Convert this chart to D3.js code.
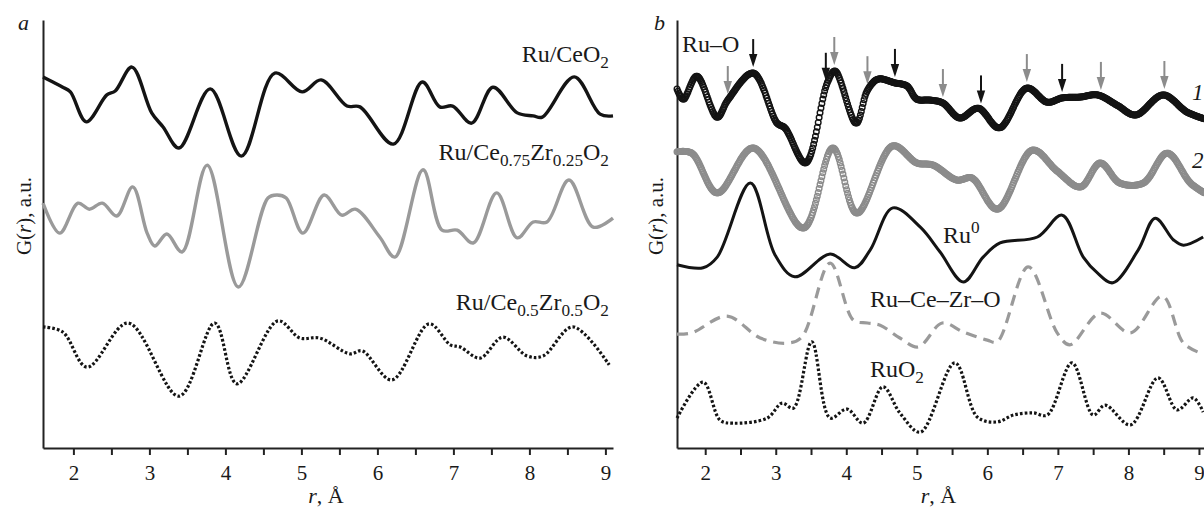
<!DOCTYPE html>
<html>
<head>
<meta charset="utf-8">
<script src="https://cdn.jsdelivr.net/npm/d3@7/dist/d3.min.js"></script>
<style>
  html, body { margin: 0; padding: 0; background: #fff; }
  svg { display: block; }
  text { font-family: "Liberation Serif", "Times New Roman", serif; fill: #1a1a1a; }
</style>
</head>
<body>
<svg id="chart" width="1204" height="510"></svg>
<script>
// ---------- axis ticks ----------
const rDomain = [1.6, 9.1];
const majorTicks = [2, 3, 4, 5, 6, 7, 8, 9];
const minorTicks = [2.5, 3.5, 4.5, 5.5, 6.5, 7.5, 8.5];

// ---------- panel a: PDF curves of the supported catalysts ----------
const ceO2_r = [1.60, 1.73, 1.86, 1.96, 2.17, 2.44, 2.55, 2.77, 3.03, 3.18, 3.39, 3.80, 4.21, 4.65, 5.01, 5.26, 5.60, 5.77, 6.21, 6.59, 6.82, 6.99, 7.24, 7.52, 7.84, 8.05, 8.17, 8.59, 8.93, 9.10];
const ceO2_G = [8.67, 8.55, 8.43, 8.32, 7.62, 8.25, 8.34, 8.90, 7.83, 7.50, 7.01, 8.39, 6.82, 8.76, 8.32, 8.60, 7.99, 7.97, 7.10, 8.55, 7.97, 7.99, 7.59, 8.43, 7.83, 7.76, 7.73, 8.67, 7.80, 7.76];

const cz75_r = [1.60, 1.82, 2.06, 2.21, 2.38, 2.57, 2.78, 2.97, 3.07, 3.23, 3.43, 3.76, 4.17, 4.56, 4.68, 4.80, 5.02, 5.30, 5.53, 5.71, 6.03, 6.23, 6.60, 6.85, 7.05, 7.26, 7.57, 7.84, 8.05, 8.23, 8.52, 8.84, 9.10];
const cz75_G = [5.72, 5.02, 5.72, 5.58, 5.72, 5.42, 6.10, 5.02, 4.72, 5.00, 4.58, 6.61, 3.76, 5.84, 5.91, 5.84, 5.02, 5.91, 5.44, 5.58, 4.93, 4.46, 6.50, 5.09, 5.09, 4.79, 5.96, 4.91, 5.28, 5.28, 6.26, 5.16, 5.37];

const cz50_r = [1.60, 1.86, 2.18, 2.72, 3.39, 3.86, 4.15, 4.69, 4.98, 5.24, 5.64, 5.80, 6.19, 6.68, 6.96, 7.09, 7.35, 7.65, 7.97, 8.18, 8.57, 9.05];
const cz50_G = [2.83, 2.71, 1.89, 2.92, 1.21, 2.92, 1.50, 2.97, 2.57, 2.57, 2.20, 2.27, 1.59, 2.90, 2.41, 2.36, 2.10, 2.59, 2.15, 2.15, 2.83, 1.94];

// ---------- panel b: samples 1, 2 and reference phases ----------
const s1_r = [1.60, 1.69, 1.88, 2.17, 2.32, 2.68, 3.02, 3.13, 3.42, 3.73, 3.84, 4.14, 4.30, 4.45, 4.69, 4.86, 5.00, 5.19, 5.37, 5.61, 5.87, 6.17, 6.56, 6.85, 7.06, 7.32, 7.56, 7.84, 8.10, 8.49, 8.83, 9.08];
const s1_G = [8.39, 8.15, 8.69, 7.73, 8.13, 8.76, 7.59, 7.48, 6.66, 8.53, 8.81, 7.59, 8.36, 8.62, 8.53, 8.46, 8.15, 8.13, 8.06, 7.71, 7.94, 7.48, 8.41, 8.08, 8.18, 8.20, 8.25, 8.01, 7.78, 8.25, 7.85, 7.69];

const s2_r = [1.60, 1.81, 2.17, 2.68, 3.39, 3.81, 4.15, 4.66, 5.00, 5.23, 5.57, 5.78, 6.14, 6.64, 6.99, 7.32, 7.60, 7.88, 8.21, 8.55, 8.88, 9.08];
const s2_G = [6.92, 6.89, 5.96, 7.01, 5.14, 7.01, 5.49, 7.06, 6.66, 6.61, 6.26, 6.31, 5.58, 6.96, 6.47, 6.10, 6.66, 6.19, 6.19, 6.89, 6.19, 5.96];

const ru0_r = [1.60, 1.97, 2.17, 2.64, 2.99, 3.27, 3.77, 4.12, 4.34, 4.66, 5.05, 5.33, 5.66, 5.94, 6.18, 6.71, 7.06, 7.36, 7.56, 7.78, 8.14, 8.38, 8.64, 8.78, 9.06];
const ru0_G = [4.28, 4.21, 4.46, 6.19, 4.51, 4.00, 4.53, 4.21, 4.63, 5.61, 5.16, 4.58, 3.88, 4.46, 4.79, 4.93, 5.44, 4.46, 4.09, 3.86, 4.63, 5.37, 4.86, 4.74, 4.93];

const rczo_r = [1.60, 1.81, 2.31, 2.78, 3.16, 3.37, 3.77, 4.10, 4.30, 4.48, 4.76, 5.02, 5.36, 5.66, 6.00, 6.14, 6.58, 6.99, 7.17, 7.60, 8.03, 8.48, 8.78, 9.02];
const rczo_G = [2.66, 2.69, 3.08, 2.57, 2.45, 2.59, 4.32, 2.99, 2.92, 2.87, 2.57, 2.36, 2.92, 2.71, 2.52, 2.48, 4.23, 2.69, 2.41, 3.15, 2.69, 3.55, 2.45, 2.22];

const ruo2_r = [1.60, 1.97, 2.21, 2.39, 2.88, 3.09, 3.25, 3.51, 3.77, 4.01, 4.24, 4.52, 4.76, 5.05, 5.54, 5.86, 6.14, 6.37, 6.65, 6.85, 7.20, 7.50, 7.67, 8.03, 8.42, 8.69, 8.92, 9.06];
const ruo2_G = [0.70, 1.54, 0.65, 0.58, 0.70, 1.05, 0.93, 2.48, 0.70, 0.91, 0.58, 1.43, 0.82, 0.37, 1.99, 0.72, 0.61, 0.77, 0.82, 0.77, 1.99, 0.77, 1.00, 0.54, 1.64, 0.89, 1.17, 0.84];

// characteristic distances marked on curve 1
const arrowsBlack = [2.68, 3.71, 4.69, 5.91, 7.06];
const arrowsGray = [2.32, 3.83, 4.30, 5.37, 6.56, 7.61, 8.51];

// ---------- layout ----------
const svg = d3.select('#chart');
const yTop = 20, yBottom = 448;
const BLACK = '#141414', GRAY = '#8c8c8c', LGRAY = '#9a9a9a';

const xa = d3.scaleLinear().domain(rDomain).range([43, 613]);
const xb = d3.scaleLinear().domain(rDomain).range([677, 1206]);
const y = d3.scaleLinear().domain([0, 10]).range([yBottom, yTop]);

const zip = (rs, gs) => rs.map((r, i) => [r, gs[i]]);

function lineGen(x) {
  return d3.line().x(d => x(d[0])).y(d => y(d[1])).curve(d3.curveCatmullRom.alpha(0.5));
}

function drawAxes(x, yLabelX) {
  const g = svg.append('g');
  const ax = d3.axisBottom(x)
    .tickValues(majorTicks.concat(minorTicks))
    .tickFormat(d => Number.isInteger(d) ? d : '')
    .tickSize(7).tickSizeOuter(0).tickPadding(10);
  const gx = g.append('g').attr('transform', `translate(0,${yBottom})`).call(ax);
  gx.select('.domain').attr('stroke', '#222').attr('stroke-width', 2);
  gx.selectAll('.tick line').attr('stroke', '#222').attr('stroke-width', 2);
  gx.selectAll('.tick text').attr('font-size', 21).attr('fill', '#1a1a1a')
    .attr('font-family', '"Liberation Serif", serif');

  const ay = d3.axisLeft(y).tickValues([]).tickSizeOuter(0);
  const gy = g.append('g').attr('transform', `translate(${x.range()[0]},0)`).call(ay);
  gy.select('.domain').attr('stroke', '#222').attr('stroke-width', 2);

  // x-axis title
  const xt = g.append('text')
    .attr('x', (x.range()[0] + Math.min(x.range()[1], 1204)) / 2 - 2)
    .attr('y', 503).attr('text-anchor', 'middle').attr('font-size', 22);
  xt.append('tspan').attr('font-style', 'italic').text('r');
  xt.append('tspan').text(', Å');

  // y-axis title
  const yt = g.append('text')
    .attr('transform', `translate(${yLabelX},216) rotate(-90)`)
    .attr('text-anchor', 'middle').attr('font-size', 21);
  yt.append('tspan').text('G(');
  yt.append('tspan').attr('font-style', 'italic').text('r');
  yt.append('tspan').text('), a.u.');
}

function drawLine(x, data, color, width, dash) {
  const p = svg.append('path')
    .attr('d', lineGen(x)(data))
    .attr('fill', 'none')
    .attr('stroke', color)
    .attr('stroke-width', width)
    .attr('stroke-linejoin', 'round');
  if (dash) p.attr('stroke-dasharray', dash);
  return p;
}

// y-pixel of the smoothed curve at a given x-pixel
function curveSampler(pathNode) {
  const L = pathNode.getTotalLength();
  const pts = [];
  for (let l = 0; l <= L; l += 0.5) pts.push(pathNode.getPointAtLength(l));
  pts.push(pathNode.getPointAtLength(L));
  const bis = d3.bisector(p => p.x).left;
  return px => {
    const i = bis(pts, px);
    if (i <= 0) return pts[0].y;
    if (i >= pts.length) return pts[pts.length - 1].y;
    const a = pts[i - 1], b = pts[i];
    const t = (px - a.x) / ((b.x - a.x) || 1);
    return a.y + t * (b.y - a.y);
  };
}

// curve drawn as a chain of open circles (measured points)
function drawMarkers(x, data, color) {
  const guide = svg.append('path').attr('d', lineGen(x)(data))
    .attr('fill', 'none').attr('stroke', 'none');
  const yAt = curveSampler(guide.node());
  const rs = d3.range(data[0][0], data[data.length - 1][0] + 1e-9, 0.013);
  svg.append('g').selectAll('circle').data(rs).join('circle')
    .attr('cx', r => x(r))
    .attr('cy', r => yAt(x(r)))
    .attr('r', 2.8)
    .attr('fill', 'none')
    .attr('stroke', color)
    .attr('stroke-width', 1.4);
  return yAt;
}

function drawArrows(x, positions, yAt, color) {
  const g = svg.append('g');
  positions.forEach(r => {
    const px = x(r);
    const tip = yAt(px) - 6;
    const len = 28, head = 13, hw = 4.2;
    g.append('line')
      .attr('x1', px).attr('x2', px)
      .attr('y1', tip - len).attr('y2', tip - head + 2)
      .attr('stroke', color).attr('stroke-width', 2);
    g.append('path')
      .attr('d', `M${px - hw},${tip - head} L${px + hw},${tip - head} L${px},${tip} Z`)
      .attr('fill', color);
  });
}

// text with sub/superscripts: parts = [[text, 'sub'|'sup'|'' , italic]]
function richText(x0, y0, anchor, parts, size) {
  const t = svg.append('text').attr('x', x0).attr('y', y0)
    .attr('text-anchor', anchor).attr('font-size', size);
  let shift = 0;
  parts.forEach(([s, kind, italic]) => {
    const target = kind === 'sub' ? 6 : kind === 'sup' ? -10 : 0;
    const sp = t.append('tspan').text(s).attr('dy', target - shift);
    if (kind) sp.attr('font-size', size * 0.72);
    if (italic) sp.attr('font-style', 'italic');
    shift = target;
  });
  return t;
}

// ---------- panel a ----------
drawAxes(xa, 31);
drawLine(xa, zip(ceO2_r, ceO2_G), BLACK, 3.4);
drawLine(xa, zip(cz75_r, cz75_G), LGRAY, 3.4);
drawLine(xa, zip(cz50_r, cz50_G), BLACK, 3.2, '2.6 2.1');

richText(609, 62, 'end', [['Ru/CeO'], ['2', 'sub']], 24);
richText(609, 160, 'end', [['Ru/Ce'], ['0.75', 'sub'], ['Zr'], ['0.25', 'sub'], ['O'], ['2', 'sub']], 24);
richText(609, 310, 'end', [['Ru/Ce'], ['0.5', 'sub'], ['Zr'], ['0.5', 'sub'], ['O'], ['2', 'sub']], 24);
svg.append('text').attr('x', 18).attr('y', 30).attr('font-size', 22)
  .attr('font-style', 'italic').text('a');

// ---------- panel b ----------
drawAxes(xb, 663);
drawLine(xb, zip(ruo2_r, ruo2_G), BLACK, 3.2, '2.6 2.1');
drawLine(xb, zip(rczo_r, rczo_G), LGRAY, 3.2, '11 7');
drawLine(xb, zip(ru0_r, ru0_G), BLACK, 3);
drawMarkers(xb, zip(s2_r, s2_G), GRAY);
const yS1 = drawMarkers(xb, zip(s1_r, s1_G), BLACK);
drawArrows(xb, arrowsGray, yS1, GRAY);
drawArrows(xb, arrowsBlack, yS1, BLACK);

richText(682, 52, 'start', [['Ru–O']], 24);
richText(1192, 100, 'start', [['1', '', true]], 23);
richText(1192, 168, 'start', [['2', '', true]], 23);
richText(943, 243, 'start', [['Ru'], ['0', 'sup']], 24);
richText(870, 307, 'start', [['Ru–Ce–Zr–O']], 24);
richText(870, 377, 'start', [['RuO'], ['2', 'sub']], 24);
svg.append('text').attr('x', 654).attr('y', 30).attr('font-size', 22)
  .attr('font-style', 'italic').text('b');
</script>
</body>
</html>
